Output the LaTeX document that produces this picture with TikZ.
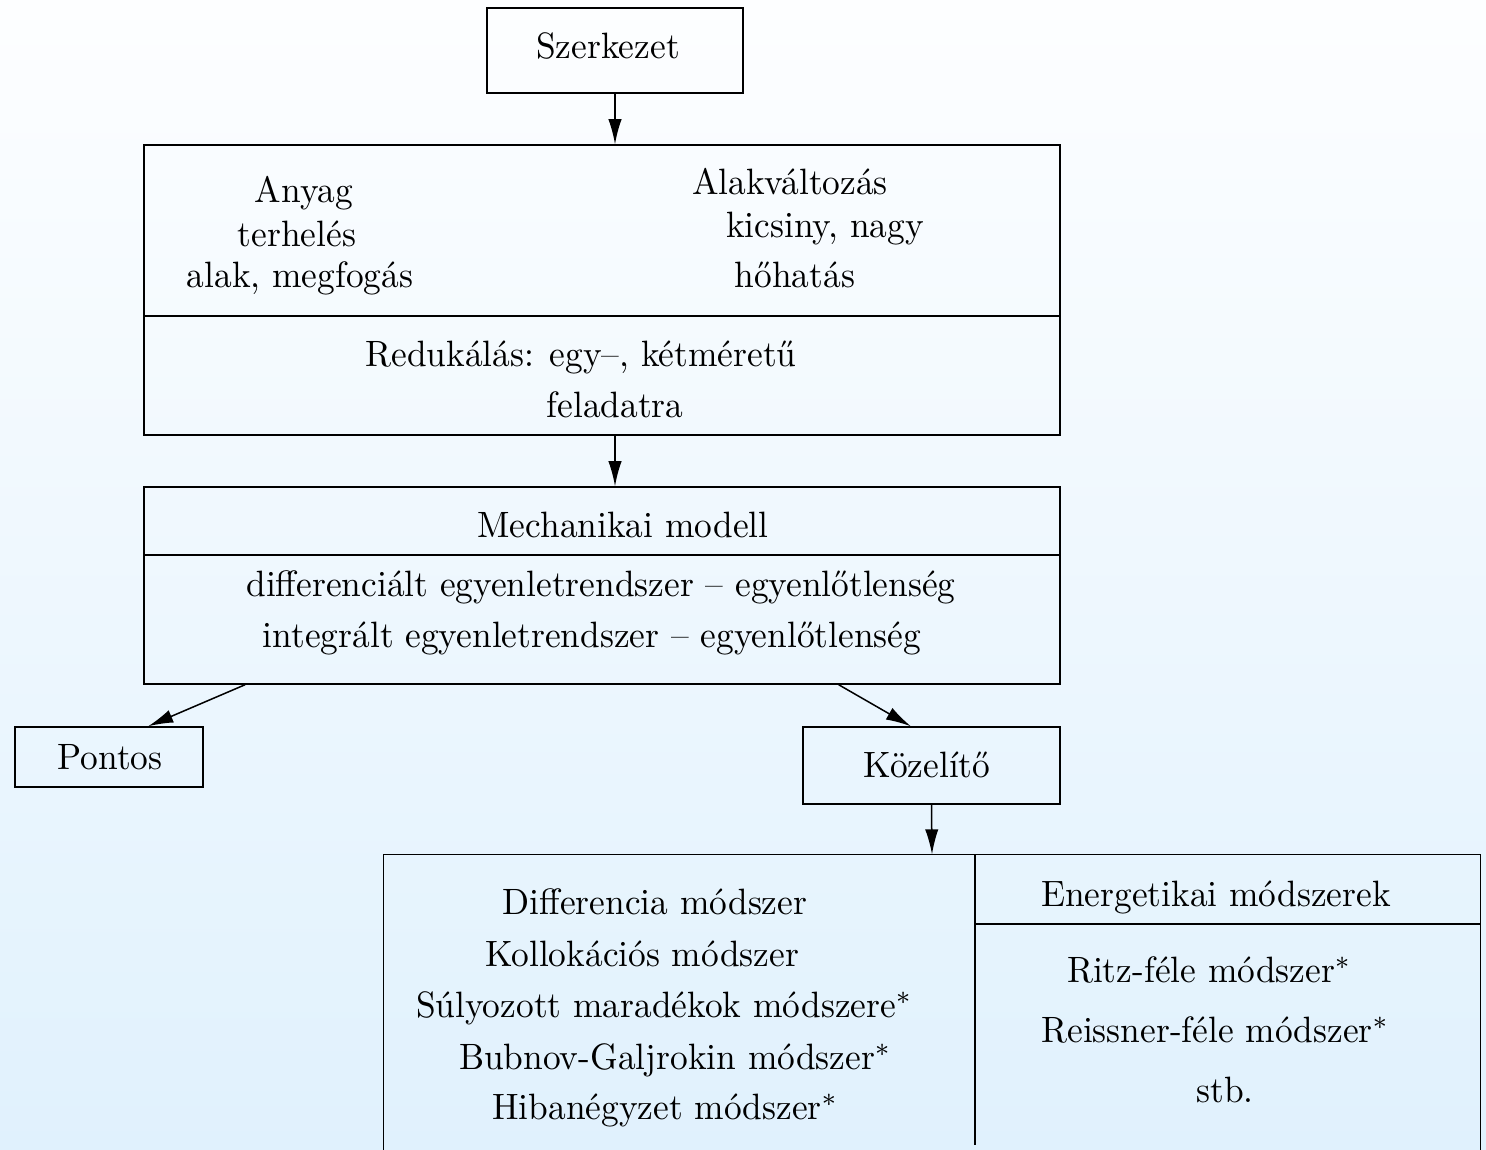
\documentclass[tikz,border=0pt]{standalone}
\usepackage{fontspec}
\setmainfont{Latin Modern Roman}[FakeStretch=0.965]
\usetikzlibrary{arrows.meta, positioning, calc}
\definecolor{hatterfent}{RGB}{253,254,255}
\definecolor{hatterlent}{RGB}{224,241,253}

\begin{document}
\begin{tikzpicture}[
        x=0.3pt, y=-0.3pt,
        font=\fontsize{11pt}{13pt}\selectfont,
        doboz/.style={
            draw,
            rectangle,
            inner sep=0pt,
            line width=0.45pt
        },
        szoveg/.style={anchor=base, inner sep=0pt},
        nyil/.style={-{Latex[length=7.5pt,width=4pt]}, line width=0.45pt}
    ]

        % hatter
        \shade[top color=hatterfent, bottom color=hatterlent] (0,0) rectangle (1486,1150);
        \useasboundingbox (0,0) rectangle (1486,1150);

        \node[doboz, minimum width=76.8pt, minimum height=25.5pt] (szerkezet) at (615,50.5) {};
        \node[szoveg] (szerkezetT) at (608,59) {Szerkezet};

        % feltetelek
        \node[doboz, minimum width=274.8pt, minimum height=87pt] (felt) at (602,290) {};
        \coordinate (oszt1) at (0,316);
        \draw[line width=0.45pt] (felt.west |- oszt1) -- (felt.east |- oszt1);

        \node[szoveg] (anyag) at (304,203) {Anyag};
        \node[szoveg] (terheles) at (297,247) {terhelés};
        \node[szoveg] (alak) at (300,288) {alak, megfogás};
        \node[szoveg] (alakv) at (790,195) {Alakváltozás};
        \node[szoveg] (kicsiny) at (825,238) {kicsiny, nagy};
        \node[szoveg] (hohatas) at (795,288) {hőhatás};
        \node[szoveg] (redukalas) at (581,367) {Redukálás: egy--, kétméretű};
        \node[szoveg] (feladatra) at (615,418) {feladatra};

        % mechanikai modell
        \node[doboz, minimum width=274.8pt, minimum height=59.1pt] (modell) at (602,585.5) {};
        \coordinate (oszt2) at (0,555);
        \draw[line width=0.45pt] (modell.west |- oszt2) -- (modell.east |- oszt2);

        \node[szoveg] (mechanikai) at (623,538) {Mechanikai modell};
        \node[szoveg] (diff) at (601,597) {differenciált egyenletrendszer -- egyenlőtlenség};
        \node[szoveg] (integr) at (592,648) {integrált egyenletrendszer -- egyenlőtlenség};

        % megoldasok
        \node[doboz, minimum width=56.4pt, minimum height=18pt] (pontos) at (109,757) {};
        \node[szoveg] at (110,770) {Pontos};
        \node[doboz, minimum width=77.1pt, minimum height=23.1pt] (kozelito) at (931.5,765.5) {};
        \node[szoveg] at (927,778) {Közelítő};

        % modszerek
        \node[minimum width=328.8pt, minimum height=88.5pt, inner sep=0pt] (modszerek) at (932,1002.5) {};
        \draw[line width=0.45pt] (modszerek.south west) -- (modszerek.north west)
            -- (modszerek.north east) -- (modszerek.south east);
        \coordinate (oszt3) at (975,1145);
        \coordinate (oszt4) at (0,924);
        \draw[line width=0.45pt] (oszt3 |- modszerek.north) -- (oszt3);
        \draw[line width=0.45pt] (oszt3 |- oszt4) -- (modszerek.east |- oszt4);

        \node[szoveg] at (655,915) {Differencia módszer};
        \node[szoveg] at (642,967) {Kollokációs módszer};
        \node[szoveg] at (664,1018) {Súlyozott maradékok módszere$^*$};
        \node[szoveg] at (675,1070) {Bubnov-Galjrokin módszer$^*$};
        \node[szoveg] at (665,1120) {Hibanégyzet módszer$^*$};

        \node[szoveg] at (1216,907) {Energetikai módszerek};
        \node[szoveg] at (1209,983) {Ritz-féle módszer$^*$};
        \node[szoveg] at (1215,1043) {Reissner-féle módszer$^*$};
        \node[szoveg] at (1225,1103) {stb.};

        % nyilak
        \draw[nyil] (szerkezet.south) -- (szerkezet.south |- felt.north);
        \draw[nyil] (szerkezet.south |- felt.south) -- (szerkezet.south |- modell.north);
        \draw[nyil] ($(modell.south west)!0.111!(modell.south east)$)
            -- ($(pontos.north west)!0.707!(pontos.north east)$);
        \draw[nyil] ($(modell.south west)!0.758!(modell.south east)$)
            -- ($(kozelito.north west)!0.42!(kozelito.north east)$);
        \draw[nyil] (kozelito.south) -- (modszerek.north);

    \end{tikzpicture}
\end{document}
